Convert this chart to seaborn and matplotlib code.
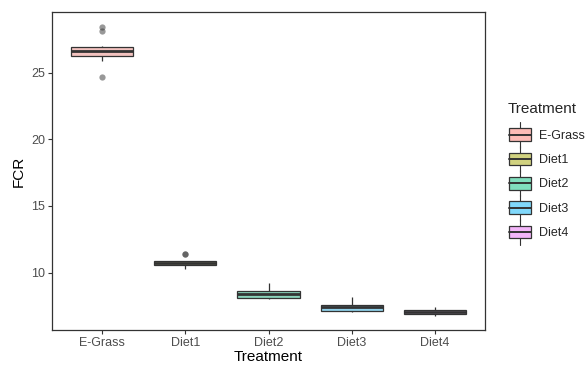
import numpy as np
import pandas as pd
import matplotlib
matplotlib.use("Agg")
import matplotlib.pyplot as plt
from matplotlib.legend_handler import HandlerBase
from matplotlib.patches import Rectangle
from matplotlib.lines import Line2D
import seaborn as sns

egrass = [24.65, 25.85, 26.2, 26.3, 26.45, 26.6, 26.75, 26.9, 27.0, 28.1, 28.45]
diet1 = [10.28, 10.55, 10.58, 10.62, 10.66, 10.68, 10.72, 10.78, 10.84, 10.86, 11.42, 11.42]
diet2 = [8.0, 8.05, 8.1, 8.12, 8.3, 8.38, 8.45, 8.55, 8.65, 8.8, 9.2]
diet3 = [7.07, 7.12, 7.14, 7.18, 7.3, 7.39, 7.48, 7.58, 7.64, 7.85, 8.16]
diet4 = [6.72, 6.8, 6.85, 6.89, 6.97, 7.04, 7.1, 7.18, 7.26, 7.33, 7.41]

treatments = ["E-Grass", "Diet1", "Diet2", "Diet3", "Diet4"]
groups = [egrass, diet1, diet2, diet3, diet4]
base_colors = ["#F8766D", "#A3A500", "#00BF7D", "#00B0F6", "#E76BF3"]

df = pd.DataFrame({
    "Treatment": np.repeat(treatments, [len(g) for g in groups]),
    "FCR": np.concatenate(groups),
})

# alpha 0.5 fill on white background
def blend(c, a=0.5):
    r, g, b = matplotlib.colors.to_rgb(c)
    return (1 - a + a * r, 1 - a + a * g, 1 - a + a * b)

fills = [blend(c) for c in base_colors]
edge = "#333333"

sns.set_style("white")
plt.rcParams["font.family"] = ["Liberation Sans", "DejaVu Sans"]

fig = plt.figure(figsize=(5.87, 3.67), dpi=100)
ax = fig.add_axes([52 / 587, 1 - 330 / 367, 433 / 587, 318 / 367])

sns.boxplot(
    data=df, x="Treatment", y="FCR", hue="Treatment", order=treatments,
    hue_order=treatments, palette=fills, width=0.75, linecolor=edge,
    linewidth=0.9, legend=False, ax=ax, showcaps=False,
    medianprops={"linewidth": 2.0, "color": edge},
    flierprops={"marker": "o", "markersize": 4.5, "markerfacecolor": edge,
                "markeredgecolor": "none", "alpha": 0.5},
)

ax.set_xlim(-0.6, 4.6)
ax.set_ylim(5.70, 29.55)
ax.set_yticks([10, 15, 20, 25])
ax.set_xlabel("Treatment", fontsize=11, color="black", labelpad=1)
ax.set_ylabel("FCR", fontsize=11, color="black", labelpad=4)
ax.tick_params(axis="both", which="major", length=3, width=0.8, color=edge,
               labelsize=9, labelcolor="#4D4D4D", pad=2, bottom=True, left=True)
for s in ax.spines.values():
    s.set_color(edge)
    s.set_linewidth(0.9)
ax.grid(False)


class BoxKey(HandlerBase):
    def create_artists(self, legend, orig_handle, xd, yd, w, h, fontsize, trans):
        fc = orig_handle.get_facecolor()
        x0, yb = -xd, -yd
        bh = h * 0.66
        y0 = yb + (h - bh) / 2
        rect = Rectangle((x0, y0), w, bh, facecolor=fc, edgecolor=edge,
                         linewidth=0.9, transform=trans)
        med = Line2D([x0, x0 + w], [yb + h / 2] * 2, color=edge, lw=1.4, transform=trans)
        top = Line2D([x0 + w / 2] * 2, [y0 + bh, yb + 1.17 * h], color=edge, lw=0.8, transform=trans)
        bot = Line2D([x0 + w / 2] * 2, [yb - 0.17 * h, y0], color=edge, lw=0.8, transform=trans)
        return [top, bot, rect, med]


# legend title drawn separately so the gap above the keys matches
fig.text(508 / 587, 1 - 113 / 367, "Treatment", fontsize=11, ha="left", va="baseline")
handles = [Rectangle((0, 0), 1, 1, facecolor=f) for f in fills]
leg = fig.legend(
    handles, treatments, handler_map={Rectangle: BoxKey()},
    loc="upper left", bbox_to_anchor=(509 / 587, 1 - 125 / 367), frameon=False,
    fontsize=9, handlelength=1.75, handleheight=2.0,
    handletextpad=0.65, labelspacing=0.4, borderaxespad=0, borderpad=0,
)

fig.savefig("out.png", dpi=100)
